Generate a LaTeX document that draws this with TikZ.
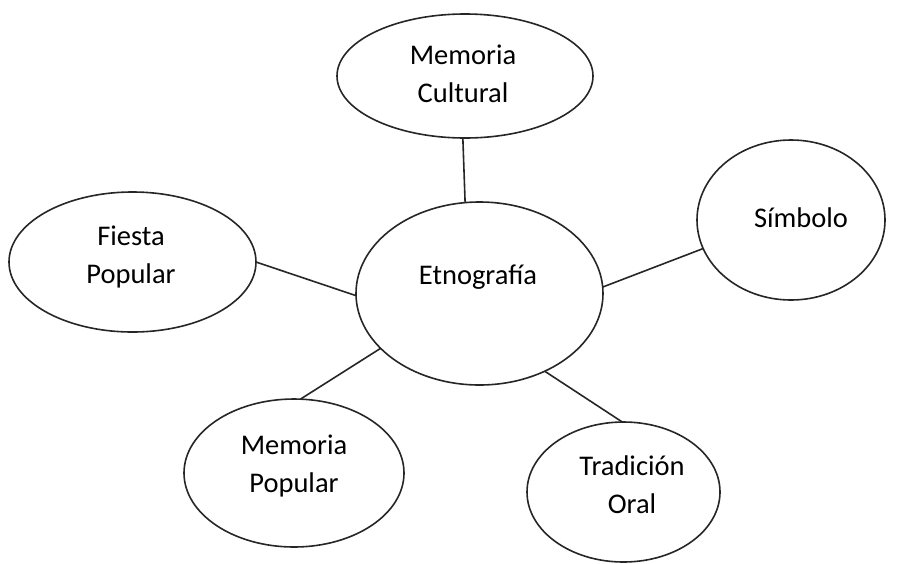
\documentclass[tikz,border=0pt]{standalone}
\usepackage{fontspec}
\setmainfont{Carlito}
\usetikzlibrary{shapes.geometric}
\begin{document}
\begin{tikzpicture}[x=1pt,y=-1pt,
  bub/.style={ellipse,draw=black!85,line width=1.6pt,inner sep=0pt,outer sep=0pt},
  lbl/.style={anchor=base,align=center,inner sep=0pt,font=\fontsize{28.5}{38}\selectfont},
  link/.style={draw=black!85,line width=1.6pt}]
\useasboundingbox (0,0) rectangle (899,563);
\node[bub,minimum width=256pt,minimum height=124pt] (mc) at (465,76) {};
\node[bub,minimum width=247pt,minimum height=183pt] (et) at (479.5,293.5) {};
\node[bub,minimum width=188pt,minimum height=160pt] (si) at (791,220) {};
\node[bub,minimum width=247pt,minimum height=140pt] (fp) at (132.5,262) {};
\node[bub,minimum width=220pt,minimum height=148pt] (mp) at (294,473) {};
\node[bub,minimum width=193pt,minimum height=140pt] (to) at (623.5,492) {};
\node[lbl] (tmc) at (463,102) {Memoria\\Cultural};
\node[lbl] (tet) at (478,284) {Etnografía};
\node[lbl] (tsi) at (801,227) {Símbolo};
\node[lbl] (tfp) at (131,283) {Fiesta\\Popular};
\node[lbl] (tmp) at (294,492) {Memoria\\Popular};
\node[lbl] (tto) at (632,513) {Tradición\\Oral};
\draw[link] (mc.268) -- (et.99.6);
\draw[link] (fp.-0.5) -- (et.181.6);
\draw[link] (si.198.8) -- (et.3.9);
\draw[link] (et.209.5) -- (mp.85.4);
\draw[link] (et.310.1) -- (to.91.2);
\end{tikzpicture}
\end{document}
